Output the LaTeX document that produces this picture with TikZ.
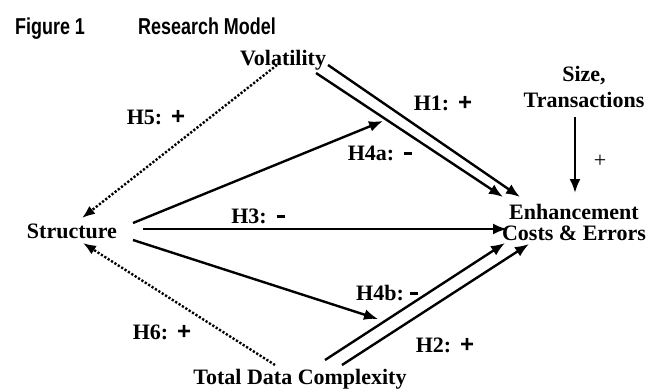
\documentclass[tikz,border=0pt]{standalone}
\usepackage{fontspec}
\setmainfont{Liberation Serif}
\newfontfamily\hfont{Liberation Sans}[FakeStretch=0.78]
\newfontfamily\sfplusfont{Liberation Sans}
\usetikzlibrary{arrows.meta}
\newcommand{\hplus}{{\sfplusfont\bfseries\fontsize{24}{24}\selectfont +}}
\newcommand{\hminus}{\rule[5pt]{8pt}{3.5pt}}
\tikzset{
  lbl/.style={font=\fontsize{22}{28}\selectfont\bfseries, inner sep=0pt},
  lblenh/.style={font=\fontsize{22}{21.5}\selectfont\bfseries, inner sep=0pt, align=center},
  lblsz/.style={font=\fontsize{22}{26}\selectfont\bfseries, inner sep=0pt, align=center},
  hyp/.style={font=\fontsize{22}{26}\selectfont\bfseries, inner sep=0pt, anchor=base},
  ttl/.style={font=\hfont\bfseries\fontsize{23}{26}\selectfont, inner sep=0pt, anchor=base west},
  arr/.style={line width=2.4pt, -{Latex[length=14pt,width=11pt]}},
  dotarr/.style={line width=2.4pt, dash pattern=on 2.2pt off 1.8pt, -{Latex[length=13pt,width=10pt]}}
}
\begin{document}
\begin{tikzpicture}[x=1pt,y=-1pt]
\path[use as bounding box] (0,0) rectangle (655,388);
% titles
\node[ttl] (fig) at (15,34) {Figure 1};
\node[ttl] (rm) at (138,34) {Research Model};
% main nodes (multi-line nodes: base anchor = last line)
\node[lbl, anchor=base] (vol) at (283,65) {Volatility};
\node[lbl, anchor=base] (struct) at (72,238) {Structure};
\node[lbl, anchor=base] (tdc) at (300,384) {Total Data Complexity};
\node[lblenh, anchor=base] (enh) at (574,240.5) {Enhancement\\Costs \& Errors};
\node[lblsz, anchor=base] (size) at (584,107) {Size,\\Transactions};
% connector end points
\coordinate (h1a) at (328,65);  \coordinate (h1ae) at (520,197);
\coordinate (h1b) at (316,73);  \coordinate (h1be) at (503,197);
\coordinate (h2a) at (325,360); \coordinate (h2ae) at (505,243);
\coordinate (h2b) at (342,365); \coordinate (h2be) at (529,244);
\coordinate (h3s) at (143,229); \coordinate (h3e) at (507,229);
\coordinate (h4as) at (133,223); \coordinate (h4ae) at (383,121);
\coordinate (h4bs) at (133,240); \coordinate (h4be) at (378,319);
\coordinate (h5s) at (277,65);  \coordinate (h5e) at (82,218);
\coordinate (h6s) at (275,365); \coordinate (h6e) at (83,243);
\coordinate (szs) at (575,117); \coordinate (sze) at (575,193);
% connectors
\draw[arr] (h1a) -- (h1ae);
\draw[arr] (h1b) -- (h1be);
\draw[arr] (h2a) -- (h2ae);
\draw[arr] (h2b) -- (h2be);
\draw[arr] (h3s) -- (h3e);
\draw[arr] (h4as) -- (h4ae);
\draw[arr] (h4bs) -- (h4be);
\draw[dotarr] (h5s) -- (h5e);
\draw[dotarr] (h6s) -- (h6e);
\draw[arr] (szs) -- (sze);
% hypothesis labels
\node[hyp] (l5) at (156,124) {H5:\hspace{9pt}\hplus};
\node[hyp] (l1) at (443,110) {H1:\hspace{9pt}\hplus};
\node[hyp] (l4a) at (380,160) {H4a:\hspace{10pt}\hminus};
\node[hyp] (l3) at (258,223) {H3:\hspace{10pt}\hminus};
\node[hyp] (l4b) at (387,300) {H4b:\hspace{6pt}\hminus};
\node[hyp] (l6) at (162,339) {H6:\hspace{9pt}\hplus};
\node[hyp] (l2) at (445,352) {H2:\hspace{9pt}\hplus};
\node[font=\fontsize{22}{26}\selectfont, inner sep=0pt] (lsz) at (600,161) {+};
\end{tikzpicture}
\end{document}
